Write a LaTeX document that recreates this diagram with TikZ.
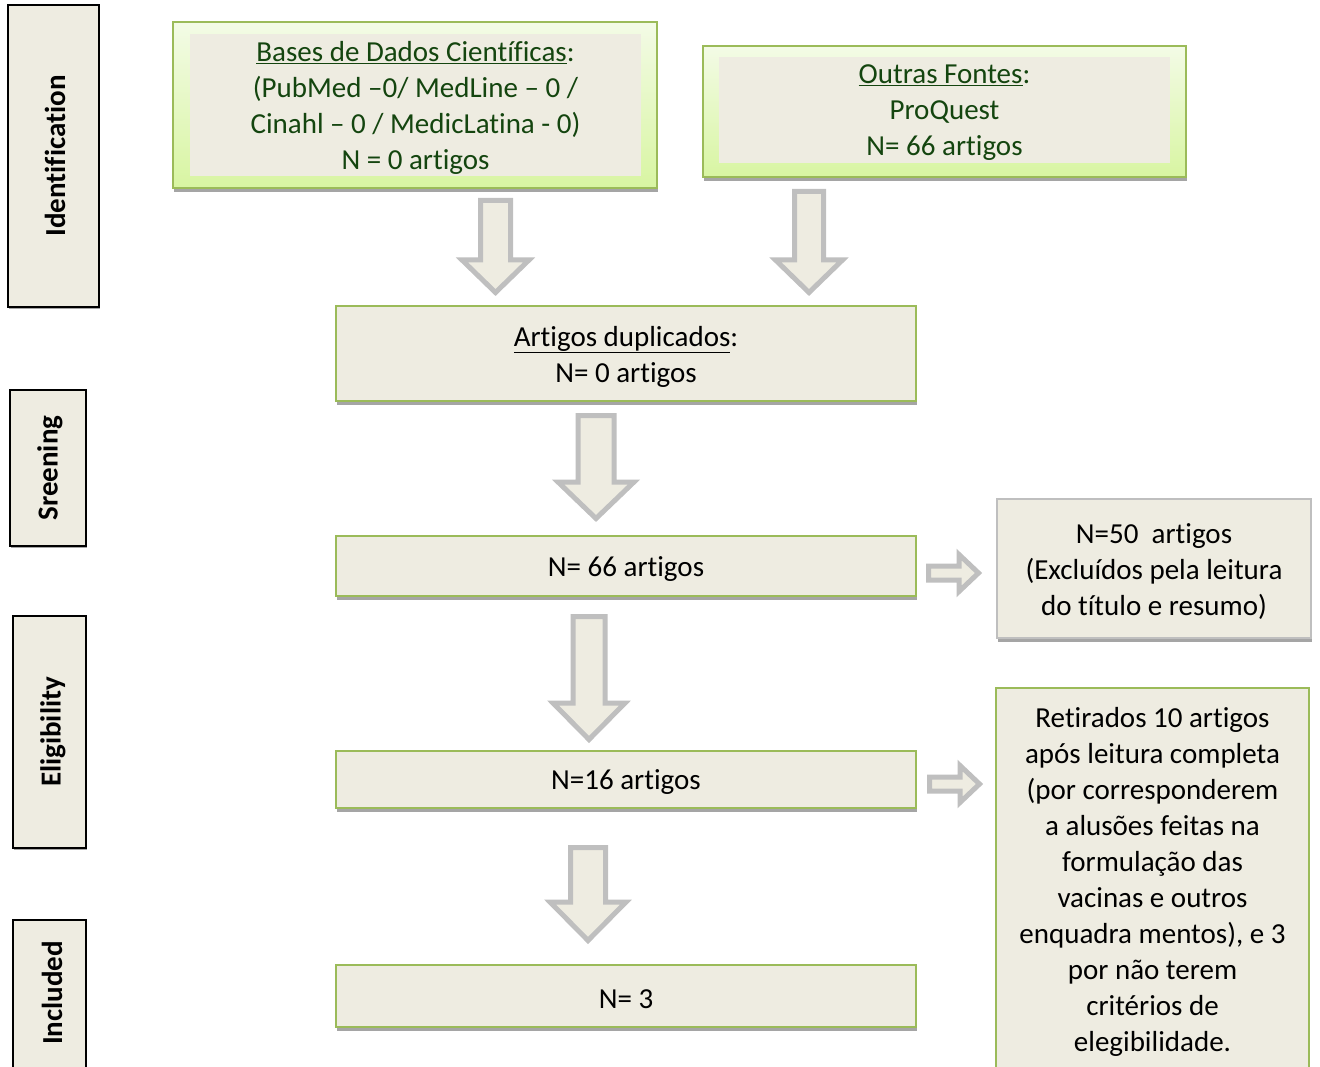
\documentclass[tikz,border=0pt]{standalone}
\usepackage{fontspec}
\setmainfont{Carlito}[Ligatures=NoCommon]
\usetikzlibrary{shadows}
\definecolor{boxfill}{HTML}{EEECE1}
\definecolor{olivegreen}{HTML}{9BBB59}
\definecolor{dkgreen}{HTML}{14450F}
\definecolor{arrowgray}{HTML}{BFBFBF}
\definecolor{shadowgray}{HTML}{A5A5A5}
\definecolor{lightgreenA}{HTML}{F3FBE6}
\definecolor{lightgreenB}{HTML}{D8F5A2}
\newcommand\dnarrow[6]{% cx, top, headY, tip, shaft half, head half
  \draw[blockarr] ({#1-#5},#2) -- ({#1+#5},#2) -- ({#1+#5},#3) -- ({#1+#6},#3) -- (#1,#4) -- ({#1-#6},#3) -- ({#1-#5},#3) -- cycle;}
\newcommand\rtarrow[6]{% cy, left, headX, tip, shaft half, head half
  \draw[blockarr] (#2,{#1-#5}) -- (#2,{#1+#5}) -- (#3,{#1+#5}) -- (#3,{#1+#6}) -- (#4,#1) -- (#3,{#1-#6}) -- (#3,{#1-#5}) -- cycle;}
\begin{document}
\begin{tikzpicture}[x=1pt,y=-1pt,
  every node/.style={inner sep=0pt, outer sep=0pt},
  maintext/.style={font=\fontsize{29}{36}\selectfont, align=center},
  boxtext/.style={maintext, yshift=-3pt},
  shad/.style={drop shadow={shadow xshift=1pt, shadow yshift=-4pt, fill=shadowgray, opacity=1}},
  flowbox/.style={draw=olivegreen, line width=1.6pt, fill=boxfill, shad, minimum width=580},
  sourceouter/.style={draw=olivegreen, line width=1.8pt, top color=lightgreenA, bottom color=lightgreenB, shad},
  sourceinner/.style={fill=boxfill},
  grayside/.style={draw=arrowgray, line width=1.6pt, fill=boxfill, shad},
  stagebox/.style={draw=black, line width=1.6pt, fill=boxfill, drop shadow={shadow xshift=1pt, shadow yshift=-2pt, fill=shadowgray, opacity=1}},
  stagetext/.style={font=\fontsize{29}{34}\selectfont\bfseries, rotate=90},
  blockarr/.style={draw=arrowgray, line width=5pt, fill=boxfill, line join=miter}
]
\useasboundingbox (0,0) rectangle (1320,1067);

% stage labels
\node[stagebox, minimum width=91, minimum height=302] (st1) at (53.5,156) {};
\node[stagetext] (st1t) at (55,156) {Identification};
\node[stagebox, minimum width=76, minimum height=156] (st2) at (48,468) {};
\node[stagetext] (st2t) at (50,468) {Sreening};
\node[stagebox, minimum width=73, minimum height=232] (st3) at (49.5,732) {};
\node[stagetext] (st3t) at (53,732) {Eligibility};
\node[stagebox, minimum width=73, minimum height=160] (st4) at (49.5,1000) {};
\node[stagetext] (st4t) at (52,993) {Included};

% source boxes
\node[sourceouter, minimum width=484, minimum height=166] (b1) at (415,105) {};
\node[sourceinner, minimum width=451, minimum height=142] (b1in) at (415.5,105) {};
\node[boxtext, text=dkgreen] (b1t) at (b1in.center)
  {\underline{Bases de Dados Científicas}:\\(PubMed –0/ MedLine – 0 /\\Cinahl – 0 / MedicLatina - 0)\\N = 0 artigos};
\node[sourceouter, minimum width=483, minimum height=131] (b2) at (944.5,111.5) {};
\node[sourceinner, minimum width=451, minimum height=106] (b2in) at (944.5,110) {};
\node[boxtext, text=dkgreen] (b2t) at (b2in.center)
  {\underline{Outras Fontes}:\\ProQuest\\N= 66 artigos};

% flow boxes
\node[flowbox, minimum height=95] (b3) at (626,353.5) {};
\node[boxtext] (b3t) at (b3.center) {\underline{Artigos duplicados}:\\N= 0 artigos};
\node[flowbox, minimum height=60] (b4) at (626,566) {};
\node[boxtext] (b4t) at (b4.center) {N= 66 artigos};
\node[flowbox, minimum height=57] (b6) at (626,779.5) {};
\node[boxtext] (b6t) at (b6.center) {N=16 artigos};
\node[flowbox, minimum height=62] (b8) at (626,996) {};
\node[boxtext] (b8t) at (b8.center) {N= 3};

% side boxes
\node[grayside, minimum width=314, minimum height=139] (b5) at (1154,568.5) {};
\node[boxtext] (b5t) at (b5.center) {N=50\ \ artigos\\(Excluídos pela leitura\\do título e resumo)};
\node[flowbox, minimum width=313, minimum height=392] (b7) at (1152.5,884) {};
\node[boxtext] (b7t) at (1152.5,879) {Retirados 10 artigos\\após leitura completa\\(por corresponderem\\a alusões feitas na\\formulação das\\vacinas e outros\\enquadra mentos), e 3\\por não terem\\critérios de\\elegibilidade.};

% block arrows
\dnarrow{495.5}{200.5}{260}{292.5}{15}{33.5}
\dnarrow{809}{191.5}{260}{292.5}{14.5}{33.5}
\dnarrow{596}{415.5}{482}{518.5}{18}{38}
\dnarrow{589}{616.5}{703}{739.5}{16}{36}
\dnarrow{588}{847.5}{902}{940.5}{17.5}{38}
\rtarrow{573}{928.5}{959}{978.5}{7}{18.5}
\rtarrow{784}{929.5}{960}{979.5}{7}{18.5}
\end{tikzpicture}
\end{document}
